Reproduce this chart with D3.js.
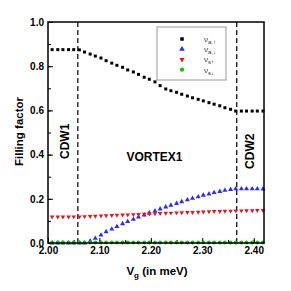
<!DOCTYPE html>
<html>
<head>
<meta charset="utf-8">
<script src="https://cdn.jsdelivr.net/npm/d3@7"></script>
<style>
  html, body { margin: 0; padding: 0; background: #fff; }
  svg { display: block; font-family: "Liberation Sans", Arial, sans-serif; }
</style>
</head>
<body>
<div id="chart"></div>
<script>
// Gate voltage samples (meV)
const vg = [2.008, 2.019, 2.029, 2.040, 2.050, 2.061, 2.071, 2.082, 2.092, 2.103,
            2.113, 2.124, 2.134, 2.145, 2.155, 2.166, 2.176, 2.187, 2.197, 2.208,
            2.218, 2.229, 2.239, 2.250, 2.260, 2.271, 2.281, 2.292, 2.302, 2.313,
            2.323, 2.334, 2.344, 2.355, 2.365, 2.376, 2.386, 2.397, 2.407, 2.418];

// nu_{a,up}
const nuAUp = [0.875, 0.875, 0.875, 0.875, 0.875, 0.874, 0.864, 0.855, 0.846, 0.837,
               0.825, 0.814, 0.804, 0.795, 0.783, 0.774, 0.763, 0.750, 0.741, 0.729,
               0.712, 0.697, 0.689, 0.682, 0.673, 0.665, 0.657, 0.650, 0.643, 0.635,
               0.628, 0.621, 0.612, 0.605, 0.597, 0.597, 0.597, 0.597, 0.597, 0.597];
// nu_{a,down}
const nuADown = [0.000, 0.000, 0.000, 0.000, 0.000, 0.000, 0.000, 0.009, 0.021, 0.036,
                 0.051, 0.063, 0.074, 0.087, 0.097, 0.107, 0.117, 0.127, 0.136, 0.145,
                 0.154, 0.163, 0.171, 0.179, 0.187, 0.195, 0.202, 0.209, 0.216, 0.222,
                 0.228, 0.233, 0.238, 0.242, 0.245, 0.245, 0.245, 0.245, 0.245, 0.244];
// nu_{s,up}
const nuSUp = [0.118, 0.118, 0.118, 0.118, 0.119, 0.119, 0.120, 0.121, 0.122, 0.123,
               0.124, 0.125, 0.126, 0.127, 0.128, 0.129, 0.130, 0.131, 0.132, 0.133,
               0.134, 0.135, 0.136, 0.137, 0.138, 0.139, 0.139, 0.140, 0.141, 0.142,
               0.143, 0.143, 0.144, 0.145, 0.146, 0.146, 0.147, 0.147, 0.148, 0.148];
// nu_{s,down}
const nuSDown = [0.002, 0.002, 0.002, 0.002, 0.002, 0.002, 0.002, 0.002, 0.002, 0.002,
                 0.002, 0.002, 0.002, 0.002, 0.002, 0.002, 0.002, 0.002, 0.002, 0.002,
                 0.002, 0.002, 0.002, 0.002, 0.002, 0.002, 0.002, 0.002, 0.002, 0.002,
                 0.002, 0.002, 0.002, 0.002, 0.002, 0.002, 0.002, 0.002, 0.002, 0.002];

const phaseBounds = [2.058, 2.367];
const xTicks = [2.00, 2.10, 2.20, 2.30, 2.40];
const yTicks = [0.0, 0.2, 0.4, 0.6, 0.8, 1.0];

const W = 291, H = 291;
const M = { top: 22, right: 27, bottom: 48, left: 48 };
const iW = W - M.left - M.right;
const iH = H - M.top - M.bottom;

const svg = d3.select("#chart").append("svg").attr("width", W).attr("height", H);
const g = svg.append("g").attr("transform", `translate(${M.left},${M.top})`);

const x = d3.scaleLinear().domain([2.00, 2.42]).range([0, iW]);
const y = d3.scaleLinear().domain([0, 1]).range([iH, 0]);

// Axes (ticks pointing inward)
g.append("g").attr("transform", `translate(0,${iH})`)
  .call(d3.axisBottom(x).tickValues(d3.range(2.00, 2.421, 0.05)).tickSize(-3).tickFormat(""))
  .call(g => g.select(".domain").remove());
g.append("g").attr("transform", `translate(0,${iH})`)
  .call(d3.axisBottom(x).tickValues(xTicks).tickSize(-5).tickPadding(4).tickFormat(d3.format(".2f")))
  .call(g => g.select(".domain").remove())
  .call(g => g.selectAll("text").attr("font-size", 10).attr("font-weight", "bold").attr("fill", "#000"));

g.append("g")
  .call(d3.axisLeft(y).tickValues(d3.range(0, 1.01, 0.1)).tickSize(-3).tickFormat(""))
  .call(g => g.select(".domain").remove());
g.append("g")
  .call(d3.axisLeft(y).tickValues(yTicks).tickSize(-5).tickPadding(4).tickFormat(d3.format(".1f")))
  .call(g => g.select(".domain").remove())
  .call(g => g.selectAll("text").attr("font-size", 10).attr("font-weight", "bold").attr("fill", "#000"));

// Phase boundaries
g.selectAll(".bound").data(phaseBounds).join("line")
  .attr("x1", d => x(d)).attr("x2", d => x(d))
  .attr("y1", 0).attr("y2", iH)
  .attr("stroke", "#000").attr("stroke-width", 1.2).attr("stroke-dasharray", "5,3");

// Series
const series = [
  { key: "a,↑", vals: nuAUp,   color: "#000000", sym: d3.symbolSquare,   size: 9 },
  { key: "a,↓", vals: nuADown, color: "#2b2bff", sym: d3.symbolTriangle, size: 11 },
  { key: "s↑",  vals: nuSUp,   color: "#e8141e", sym: d3.symbolTriangle, size: 9, flip: true },
  { key: "s↓",  vals: nuSDown, color: "#17c017", sym: d3.symbolCircle,   size: 12 }
];

series.forEach(s => {
  g.selectAll(null).data(vg.map((v, i) => [v, s.vals[i]])).join("path")
    .attr("d", d3.symbol().type(s.sym).size(s.size))
    .attr("transform", d => `translate(${x(d[0])},${y(d[1])})${s.flip ? " rotate(180)" : ""}`)
    .attr("fill", s.color);
});

// Frame
g.append("rect").attr("width", iW).attr("height", iH)
  .attr("fill", "none").attr("stroke", "#000").attr("stroke-width", 1.5);

// Region labels
g.append("text").attr("transform", `translate(${x(2.03) + 1},${y(0.46)}) rotate(-90)`)
  .attr("text-anchor", "middle").attr("dy", "0.35em")
  .attr("font-size", 12).attr("font-weight", "bold").text("CDW1");
g.append("text").attr("x", x(2.207)).attr("y", y(0.388)).attr("dy", "0.35em")
  .attr("text-anchor", "middle").attr("font-size", 12).attr("font-weight", "bold").text("VORTEX1");
g.append("text").attr("transform", `translate(${x(2.393)},${y(0.415)}) rotate(-90)`)
  .attr("text-anchor", "middle").attr("dy", "0.35em")
  .attr("font-size", 12).attr("font-weight", "bold").text("CDW2");

// Legend
const lg = svg.append("g").attr("transform", "translate(157,27)");
lg.append("rect").attr("width", 69).attr("height", 53)
  .attr("fill", "#fff").attr("stroke", "#999").attr("stroke-width", 1);
series.forEach((s, i) => {
  const yy = 12 + i * 10.2;
  lg.append("path")
    .attr("d", d3.symbol().type(s.sym).size(s.size + 3))
    .attr("transform", `translate(25,${yy})${s.flip ? " rotate(180)" : ""}`)
    .attr("fill", s.color);
  const t = lg.append("text").attr("x", 47).attr("y", yy + 3).attr("font-size", 8).attr("fill", "#333");
  t.append("tspan").text("ν");
  t.append("tspan").attr("font-size", 6).attr("dy", 2).text(s.key);
});

// Axis titles
svg.append("text").attr("transform", `translate(19,${M.top + iH * 0.5 - 1}) rotate(-90)`)
  .attr("text-anchor", "middle").attr("dy", "0.35em")
  .attr("font-size", 11.5).attr("font-weight", "bold").text("Filling factor");
const xt = svg.append("text").attr("x", M.left + iW / 2 + 1).attr("y", 275)
  .attr("text-anchor", "middle").attr("font-size", 11.5).attr("font-weight", "bold");
xt.append("tspan").text("V");
xt.append("tspan").attr("font-size", 8).attr("dy", 3).text("g");
xt.append("tspan").attr("dy", -3).text(" (in meV)");
</script>
</body>
</html>
